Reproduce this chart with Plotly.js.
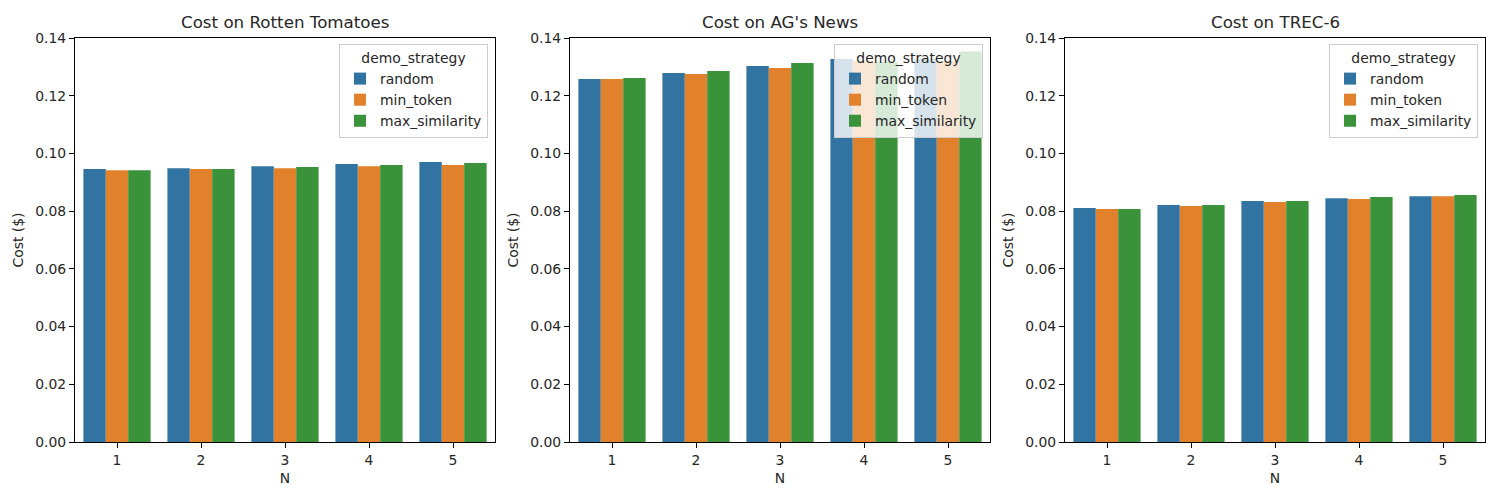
<!DOCTYPE html>
<html>
<head>
<meta charset="utf-8">
<script src="https://cdn.plot.ly/plotly-3.0.1.min.js"></script>
<style>
  html, body { margin: 0; padding: 0; background: #fff; }
  #graph { width: 1500px; height: 500px; }
</style>
</head>
<body>
<div id="graph"></div>
<script>
const nValues = ['1', '2', '3', '4', '5'];
const strategies = ['random', 'min_token', 'max_similarity'];
const datasetTitles = ['Cost on Rotten Tomatoes', "Cost on AG's News", 'Cost on TREC-6'];

// one array per dataset/strategy
const rtRandom   = [0.0946, 0.0949, 0.0956, 0.0963, 0.0970];
const rtMinToken = [0.0942, 0.0946, 0.0949, 0.0956, 0.0960];
const rtMaxSim   = [0.0942, 0.0946, 0.0953, 0.0960, 0.0967];

const agRandom   = [0.1258, 0.1279, 0.1303, 0.1327, 0.1327];
const agMinToken = [0.1258, 0.1275, 0.1296, 0.1320, 0.1320];
const agMaxSim   = [0.1261, 0.1286, 0.1313, 0.1317, 0.1353];

const trRandom   = [0.0811, 0.0821, 0.0835, 0.0845, 0.0852];
const trMinToken = [0.0807, 0.0818, 0.0832, 0.0842, 0.0852];
const trMaxSim   = [0.0807, 0.0821, 0.0835, 0.0849, 0.0856];

const yTicks = [0, 0.02, 0.04, 0.06, 0.08, 0.10, 0.12, 0.14];

const colors = ['#3274a1', '#e1812c', '#3a923a'];
const datasets = [
  [rtRandom, rtMinToken, rtMaxSim],
  [agRandom, agMinToken, agMaxSim],
  [trRandom, trMinToken, trMaxSim]
];

const W = 1500, H = 500;
const plotLeft = [75, 570, 1065];
const plotWidth = 420;
const plotTop = 38, plotBottom = 442;
const font = { family: 'DejaVu Sans, sans-serif', size: 13.9, color: '#262626' };

const traces = [];
const layout = {
  width: W, height: H,
  margin: { l: 0, r: 0, t: 0, b: 0 },
  paper_bgcolor: '#fff',
  plot_bgcolor: '#fff',
  font: font,
  barmode: 'group',
  bargap: 0.2,
  bargroupgap: 0,
  annotations: []
};

datasets.forEach((series, i) => {
  const idx = i === 0 ? '' : String(i + 1);
  const legendName = 'legend' + idx;
  series.forEach((vals, j) => {
    traces.push({
      type: 'bar',
      x: nValues,
      y: vals,
      name: strategies[j],
      marker: { color: colors[j], line: { width: 0 } },
      xaxis: 'x' + idx,
      yaxis: 'y' + idx,
      legend: legendName,
      hoverinfo: 'y'
    });
  });

  const x0 = plotLeft[i] / W, x1 = (plotLeft[i] + plotWidth) / W;
  const axisCommon = {
    showline: true, linecolor: '#000', linewidth: 1.1, mirror: true,
    ticks: 'outside', ticklen: 5, tickwidth: 1, tickcolor: '#000',
    showgrid: false, zeroline: false,
    tickfont: { size: 13.9, color: '#262626' }
  };
  layout['xaxis' + idx] = Object.assign({}, axisCommon, {
    domain: [x0, x1],
    anchor: 'y' + idx,
    type: 'category',
    range: [-0.5, 4.5],
    title: { text: 'N', font: { size: 13.9 }, standoff: 6 }
  });
  layout['yaxis' + idx] = Object.assign({}, axisCommon, {
    domain: [1 - plotBottom / H, 1 - plotTop / H],
    anchor: 'x' + idx,
    range: [0, 0.14],
    tickvals: yTicks,
    tickformat: '.2f',
    title: { text: 'Cost ($)', font: { size: 13.9 }, standoff: 8 }
  });

  layout[legendName] = {
    x: (plotLeft[i] + plotWidth - 7) / W,
    y: 1 - 44 / H,
    xanchor: 'right', yanchor: 'top',
    bgcolor: 'rgba(255,255,255,0.8)',
    bordercolor: '#cccccc', borderwidth: 1,
    font: { size: 13.9, color: '#262626' },
    title: { text: 'demo_strategy', side: 'top center', font: { size: 13.9, color: '#262626' } },
    tracegroupgap: 0,
    itemwidth: 30
  };

  layout.annotations.push({
    text: datasetTitles[i],
    xref: 'paper', yref: 'paper',
    x: (x0 + x1) / 2, y: 1 - 22 / H,
    xanchor: 'center', yanchor: 'middle',
    showarrow: false,
    font: { size: 16.7, color: '#262626' }
  });
});

Plotly.newPlot('graph', traces, layout, { displayModeBar: false, staticPlot: true });
</script>
</body>
</html>
